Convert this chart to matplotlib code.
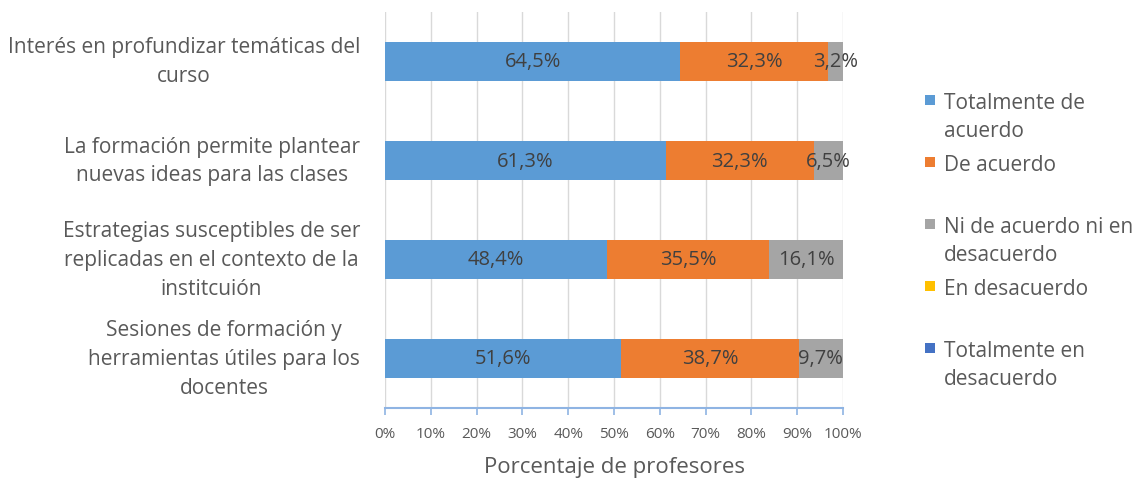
import matplotlib
matplotlib.use("Agg")
import matplotlib.pyplot as plt
from matplotlib.patches import Rectangle
import numpy as np

categories = [
    "Interés en profundizar temáticas del\ncurso",
    "La formación permite plantear\nnuevas ideas para las clases",
    "Estrategias susceptibles de ser\nreplicadas en el contexto de la\ninstitcuión",
    "Sesiones de formación y\nherramientas útiles para los\ndocentes",
]
series_names = [
    "Totalmente de\nacuerdo",
    "De acuerdo",
    "Ni de acuerdo ni en\ndesacuerdo",
    "En desacuerdo",
    "Totalmente en\ndesacuerdo",
]
totalmente_de_acuerdo = [64.5, 61.3, 48.4, 51.6]
de_acuerdo = [32.3, 32.3, 35.5, 38.7]
ni_de_acuerdo = [3.2, 6.5, 16.1, 9.7]
en_desacuerdo = [0, 0, 0, 0]
totalmente_en_desacuerdo = [0, 0, 0, 0]
colors = ["#5B9BD5", "#ED7D31", "#A5A5A5", "#FFC000", "#4472C4"]
xticks = [0, 10, 20, 30, 40, 50, 60, 70, 80, 90, 100]

series = [totalmente_de_acuerdo, de_acuerdo, ni_de_acuerdo, en_desacuerdo, totalmente_en_desacuerdo]

plt.rcParams['font.family'] = ['Open Sans', 'DejaVu Sans']
W, H = 1137, 481
fig = plt.figure(figsize=(W / 100, H / 100), dpi=100)
ax = fig.add_axes([385 / W, (H - 409) / H, (843 - 385) / W, 396 / H])

y = np.arange(len(categories))
left = np.zeros(len(categories))
for vals, col in zip(series, colors):
    vals = np.array(vals, dtype=float)
    ax.barh(y, vals, left=left, height=0.4, color=col, zorder=3)
    for yi, (l, v) in enumerate(zip(left, vals)):
        if v > 0:
            ax.text(l + v / 2, yi, f"{v:.1f}".replace('.', ',') + '%',
                    ha='center', va='center', fontsize=14.5, color='#404040', zorder=4)
    left += vals

ax.set_xlim(0, 100)
ax.set_ylim(3.5, -0.5)
ax.set_xticks(xticks)
ax.set_xticklabels([f"{t}%" for t in xticks], fontsize=11, color='#595959')
ax.set_yticks(y)
ax.set_yticklabels(categories, fontsize=15, color='#595959',
                   multialignment='center', linespacing=1.5, va='center')
ax.tick_params(axis='y', length=0, pad=18)
ax.tick_params(axis='x', length=5, color='#8FB4E3', width=1.2, pad=8)
ax.grid(axis='x', color='#D9D9D9', linewidth=1, zorder=0)
for s in ['top', 'right', 'left']:
    ax.spines[s].set_visible(False)
ax.spines['bottom'].set_color('#8FB4E3')
ax.spines['bottom'].set_linewidth(1.5)
ax.set_xlabel("Porcentaje de profesores", fontsize=16, color='#595959', labelpad=11)

# legend
for i, (name, col) in enumerate(zip(series_names, colors)):
    ytop = 101 + 62 * i
    fig.patches.append(Rectangle((925 / W, 1 - (ytop + 5) / H), 10 / W, 10 / H,
                                 transform=fig.transFigure, facecolor=col, edgecolor='none'))
    fig.text(944 / W, 1 - (ytop - 8) / H, name, fontsize=15, color='#595959',
             va='top', ha='left', linespacing=1.45)

fig.savefig("out.png", dpi=100)
